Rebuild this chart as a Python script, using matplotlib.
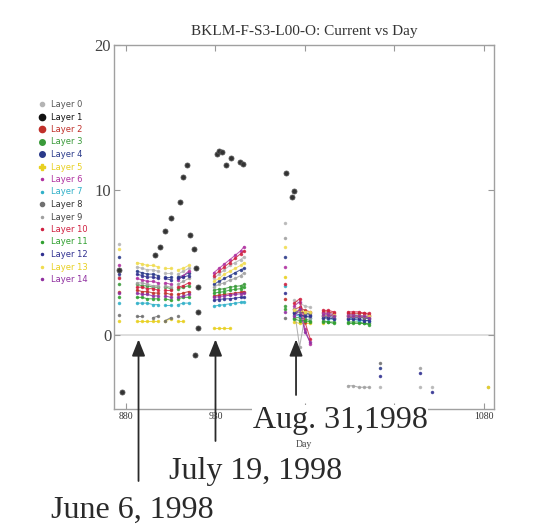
import numpy as np
import matplotlib
matplotlib.use("Agg")
import matplotlib.pyplot as plt
from matplotlib.lines import Line2D

N = np.nan
# common measurement days for layers 0, 2..14
days = [876,
        886, 889, 892, 895, 898,
        902, 905,
        909, 912, 915,
        929, 932, 935, 938, 941, 944, 946,
        969,
        974, 977, 980, 983,
        990, 993, 996, 1004, 1007, 1010, 1013, 1016,
        1022, 1044, 1051, 1082]

L0 = [6.3, 4.7, 4.6, 4.5, 4.5, 4.4, 4.3, 4.3, 4.2, 4.4, 4.6,
      3.9, 4.2, 4.5, 4.8, 5.0, 5.2, 5.4, 7.7, 2.4, 2.2, 2.0, 1.9,
      1.5, 1.5, 1.4, 1.4, 1.4, 1.4, 1.3, 1.3, -3.6, -3.6, -3.6, -3.6]
L2 = [3.0, 3.1, 3.0, 3.0, 2.9, 2.9, 2.9, 2.8, 2.8, 2.9, 3.0,
      2.7, 2.75, 2.8, 2.85, 2.9, 2.95, 3.0, 2.5, 1.8, 1.9, 1.7, 1.6,
      1.6, 1.6, 1.5, 1.5, 1.5, 1.5, 1.5, 1.4, N, N, N, N]
L3 = [3.5, 3.5, 3.4, 3.4, 3.3, 3.3, 3.3, 3.2, 3.2, 3.3, 3.4,
      3.1, 3.15, 3.2, 3.3, 3.35, 3.4, 3.5, 2.0, 1.2, 1.2, 1.1, 1.0,
      1.0, 0.9, 0.9, 0.9, 0.9, 0.9, 0.8, 0.8, N, N, N, N]
L4 = [5.4, 4.4, 4.3, 4.2, 4.2, 4.1, 4.0, 4.0, 4.0, 4.1, 4.3,
      3.5, 3.7, 3.9, 4.1, 4.3, 4.5, 4.6, 5.4, 1.6, 1.7, 1.5, 1.4,
      1.3, 1.3, 1.2, 1.2, 1.2, 1.2, 1.2, 1.1, -2.3, N, N, N]
L5 = [1.0, 1.0, 1.0, 1.0, 1.0, 1.0, 1.0, 1.1, 1.0, 1.0, N,
      0.5, 0.5, 0.5, 0.5, N, N, N, 4.0, 0.9, 0.8, 0.8, 0.8,
      0.8, N, N, N, N, N, N, N, N, N, N, -3.6]
L6 = [4.8, 3.9, 3.8, 3.7, 3.7, 3.6, 3.6, 3.5, 3.8, 4.1, 4.4,
      4.3, 4.6, 4.9, 5.2, 5.5, 5.8, 6.1, 4.7, 2.0, 2.3, 0.4, -0.6,
      1.5, 1.5, 1.4, 1.4, 1.4, 1.3, 1.3, 1.3, N, N, N, N]
L7 = [2.2, 2.2, 2.2, 2.2, 2.1, 2.1, 2.1, 2.1, 2.1, 2.2, 2.2,
      2.0, 2.05, 2.1, 2.15, 2.2, 2.25, 2.3, 3.4, 1.4, 1.3, 1.3, 1.2,
      1.2, 1.1, 1.1, 1.1, 1.1, 1.0, 1.0, 1.0, N, N, N, N]
L8 = [1.4, 1.3, 1.3, N, 1.2, 1.3, 1.0, 1.2, 1.3, N, N,
      N, N, N, N, N, N, N, 1.2, 1.5, 1.6, 1.5, 1.5,
      1.3, 1.4, 1.3, 1.3, 1.3, 1.3, 1.2, 1.2, -1.9, N, N, N]
L9 = [4.0, 3.6, 3.6, 3.5, 3.4, 3.4, 3.4, 3.3, 3.5, 3.7, 3.9,
      3.3, 3.5, 3.6, 3.8, 3.9, 4.1, 4.3, 6.7, 1.8, -0.8, 1.3, 1.2,
      1.2, 1.2, 1.2, -3.5, -3.5, -3.6, -3.6, -3.6, N, -2.3, N, N]
L10 = [3.9, 3.3, 3.3, 3.2, 3.2, 3.1, 3.1, 3.1, 3.3, 3.4, 3.6,
       4.1, 4.4, 4.7, 5.0, 5.3, 5.6, 5.8, 3.5, 2.2, 2.5, 0.9, -0.3,
       1.7, 1.7, 1.6, 1.6, 1.6, 1.6, 1.5, 1.5, N, N, N, N]
L11 = [2.6, 2.6, 2.6, 2.5, 2.5, 2.5, 2.5, 2.4, 2.5, 2.6, 2.6,
       2.9, 2.95, 3.0, 3.1, 3.15, 3.2, 3.3, 1.8, 1.1, 1.0, 1.0, 0.9,
       0.9, 0.9, 0.8, 0.8, 0.8, 0.8, 0.8, 0.7, N, N, N, N]
L12 = [4.2, 4.2, 4.1, 4.0, 4.0, 3.9, 3.9, 3.8, 3.9, 4.0, 4.1,
       2.4, 2.45, 2.5, 2.5, 2.55, 2.6, 2.6, 2.9, 1.5, 1.4, 1.3, 1.3,
       1.2, 1.2, 1.1, 1.1, 1.1, 1.1, 1.0, 1.0, -2.8, -2.6, -3.9, N]
L13 = [5.9, 5.0, 4.9, 4.8, 4.8, 4.7, 4.6, 4.6, 4.5, 4.6, 4.8,
       3.7, 3.9, 4.2, 4.4, 4.6, 4.8, 5.0, 6.1, 1.7, 1.7, 1.6, 1.6,
       1.4, 1.4, 1.4, 1.3, 1.3, 1.3, 1.3, 1.3, N, N, N, N]
L14 = [2.9, 2.9, 2.8, 2.8, 2.7, 2.7, 2.7, 2.6, 2.6, 2.7, 2.8,
       2.6, 2.65, 2.7, 2.75, 2.8, 2.85, 2.9, 1.6, 1.3, 1.8, 0.2, -0.5,
       1.4, 1.4, 1.3, 1.3, 1.3, 1.3, 1.3, 1.2, N, N, N, N]

# layer 1 (black) has its own days
l1_days = [876, 878, 896, 899, 902, 905, 910, 912, 914, 916, 918, 918.5,
           919, 920, 920.4, 920.4, 931, 932, 933.5, 936, 938.5, 943.7,
           945.2, 969.4, 972.6, 974]
L1 = [4.5, -3.9, 5.5, 6.1, 7.2, 8.1, 9.2, 10.9, 11.7, 6.9, 5.9, -1.4,
      4.6, 3.3, 1.6, 0.5, 12.5, 12.7, 12.6, 11.7, 12.2, 11.9,
      11.8, 11.15, 9.5, 9.95]

layer_names = ["Layer %d" % i for i in range(15)]
title = "BKLM-F-S3-L00-O: Current vs Day"
xticks = [880, 930, 980, 1030, 1080]
xtick_labels = ["880", "930", "", "", "1080"]   # 980/1030 hidden under the date label
yticks = [0, 10, 20]
arrow_days = [887, 930, 975]
arrow_labels = ["June 6, 1998", "July 19, 1998", "Aug. 31,1998"]

colors = ['#b4b4b4', '#111111', '#c0302a', '#3a9a3a', '#2a3a8a', '#e8d020',
          '#b030a0', '#30b0c8', '#707070', '#a0a0a0', '#d02040', '#30a030',
          '#303090', '#f0dc50', '#9030a0']
text_colors = ['#555555', '#111111', '#c0302a', '#3a9a3a', '#2a3a8a', '#e8d020',
               '#b030a0', '#30b0c8', '#333333', '#444444', '#d02040', '#30a030',
               '#303090', '#e8d020', '#9030a0']
leg_markers = ['o', 'o', 'o', 'o', 'o', 'P', '.', '.', 'o', '.', '.', '.', '.', '.', '.']
leg_sizes = [3, 4.5, 4.5, 4, 4, 4, 3, 3, 3, 3, 3, 3, 3, 3, 3]

grid_layers = {0: L0, 2: L2, 3: L3, 4: L4, 5: L5, 6: L6, 7: L7, 8: L8, 9: L9,
               10: L10, 11: L11, 12: L12, 13: L13, 14: L14}

serif = ['Liberation Serif', 'DejaVu Serif']

fig = plt.figure(figsize=(5.36, 5.28), dpi=100)
ax = fig.add_axes([114/536, 119/528, 380/536, 364/528])

ax.axhline(0, color='#d8d8d8', lw=1.2, zorder=1)

d_arr = np.asarray(days, float)
for li, vals in grid_layers.items():
    v = np.asarray(vals, float)
    m = ~np.isnan(v)
    dd, vv = d_arr[m], v[m]
    cut = np.where(np.diff(dd) > 3)[0] + 1
    for sd, sv in zip(np.split(dd, cut), np.split(vv, cut)):
        ax.plot(sd, sv, '-', marker='.', ms=3, lw=0.75, color=colors[li],
                alpha=0.8, zorder=2)

ax.plot(l1_days, L1, 'o', ms=3.6, color='#333333', mec='#555555', mew=0.6, zorder=3)

ax.set_xlim(873.3, 1085.6)
ax.set_ylim(-5.1, 20)
ax.set_xticks(xticks)
ax.set_xticklabels(xtick_labels, fontsize=7, family=serif, color='#333333')
ax.set_yticks(yticks)
ax.set_yticklabels([str(t) for t in yticks], fontsize=12, family=serif, color='#444444')
ax.tick_params(direction='in', top=True, right=True, length=4, color='#999999',
               pad=2)
for s in ax.spines.values():
    s.set_color('#a0a0a0')
    s.set_linewidth(1.0)
ax.set_title(title, fontsize=11, family=serif, color='#333333', pad=7)
ax.set_xlabel("Day", fontsize=7, family=serif, color='#444444', labelpad=14)

handles = [Line2D([], [], ls='none', marker=leg_markers[i], ms=leg_sizes[i],
                  color=colors[i]) for i in range(15)]
leg = fig.legend(handles, layer_names, loc='upper left',
                 bbox_to_anchor=(39/536, 1 - 100/528), frameon=False,
                 fontsize=6, handlelength=0.8, handletextpad=0.6,
                 labelspacing=0.42, borderpad=0, borderaxespad=0)
for t, c in zip(leg.get_texts(), text_colors):
    t.set_color(c)

tails = [1 - 481/528, 1 - 441/528, 1 - 395/528]
for d, tail in zip(arrow_days, tails):
    ax.annotate('', xy=(d, -0.3), xycoords='data',
                xytext=(d, tail), textcoords=('data', 'figure fraction'),
                arrowprops=dict(arrowstyle='-|>,head_length=1.0,head_width=0.4',
                                color='#2a2a2a', lw=1.3, shrinkA=0, shrinkB=0),
                annotation_clip=False, zorder=5)

text_pos = [(132/536, 1 - 518/528), (256/536, 1 - 479/528), (340/536, 1 - 428/528)]
for lab, (x, y) in zip(arrow_labels, text_pos):
    fig.text(x, y, lab, ha='center', va='baseline', fontsize=23, family=serif,
             color='#2a2a2a',
             bbox=dict(facecolor='white', edgecolor='none', pad=0.5))

fig.savefig('out.png', dpi=100, facecolor='white')
